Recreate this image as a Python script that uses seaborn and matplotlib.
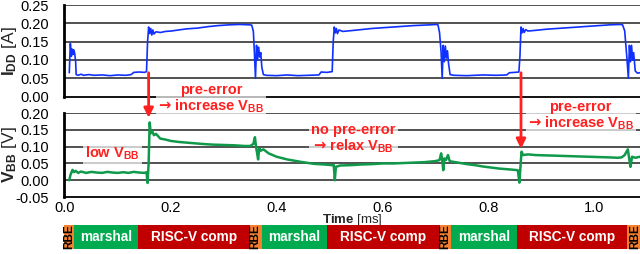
import matplotlib

matplotlib.use("Agg")
import matplotlib.pyplot as plt
from matplotlib.patches import ConnectionPatch
from matplotlib.ticker import AutoMinorLocator, MultipleLocator
import pandas as pd
import seaborn as sns


# I_DD trace (time in ms, current in A)
idd_time = [
    0.008, 0.010, 0.012, 0.013, 0.015, 0.016, 0.018, 0.020, 0.021, 0.025,
    0.030, 0.035, 0.045, 0.055, 0.070, 0.085, 0.100, 0.115, 0.125, 0.130,
    0.140, 0.150, 0.154, 0.156, 0.158, 0.160, 0.162, 0.164, 0.166, 0.168,
    0.172, 0.180, 0.190, 0.200, 0.215, 0.230, 0.250, 0.270, 0.290, 0.310,
    0.330, 0.350, 0.353, 0.356, 0.358, 0.360, 0.362, 0.364, 0.366, 0.368,
    0.370, 0.372, 0.375, 0.380, 0.400, 0.420, 0.440, 0.460, 0.480, 0.484,
    0.495, 0.505, 0.507, 0.509, 0.511, 0.513, 0.515, 0.518, 0.525, 0.540,
    0.560, 0.580, 0.600, 0.630, 0.660, 0.690, 0.702, 0.705, 0.708, 0.711,
    0.713, 0.715, 0.717, 0.719, 0.721, 0.723, 0.725, 0.728, 0.735, 0.760,
    0.790, 0.815, 0.835, 0.840, 0.850, 0.858, 0.860, 0.862, 0.864, 0.866,
    0.868, 0.871, 0.875, 0.890, 0.910, 0.940, 0.970, 1.000, 1.030, 1.050,
    1.054, 1.058, 1.062, 1.065, 1.067, 1.069, 1.071, 1.073, 1.075, 1.078,
    1.082, 1.087,
]
idd_value = [
    0.065, 0.145, 0.110, 0.130, 0.115, 0.128, 0.120, 0.095, 0.060, 0.058,
    0.061, 0.058, 0.060, 0.058, 0.059, 0.057, 0.059, 0.058, 0.060, 0.066,
    0.067, 0.066, 0.068, 0.150, 0.190, 0.172, 0.186, 0.168, 0.182, 0.171,
    0.177, 0.175, 0.178, 0.179, 0.182, 0.185, 0.187, 0.191, 0.194, 0.196,
    0.197, 0.196, 0.195, 0.178, 0.120, 0.050, 0.140, 0.100, 0.135, 0.108,
    0.120, 0.080, 0.060, 0.058, 0.057, 0.059, 0.057, 0.058, 0.059, 0.067,
    0.066, 0.068, 0.150, 0.190, 0.174, 0.186, 0.172, 0.182, 0.178, 0.180,
    0.183, 0.186, 0.188, 0.191, 0.194, 0.196, 0.197, 0.196, 0.175, 0.120,
    0.050, 0.140, 0.095, 0.138, 0.105, 0.125, 0.090, 0.060, 0.058, 0.057,
    0.059, 0.058, 0.059, 0.065, 0.066, 0.067, 0.110, 0.190, 0.174, 0.186,
    0.175, 0.183, 0.179, 0.181, 0.184, 0.187, 0.190, 0.193, 0.196, 0.197,
    0.196, 0.180, 0.110, 0.050, 0.140, 0.095, 0.140, 0.100, 0.120, 0.070,
    0.064, 0.065,
]

# V_BB trace (time in ms, voltage in V)
vbb_time = [
    0.008, 0.010, 0.014, 0.017, 0.020, 0.025, 0.030, 0.040, 0.050, 0.060,
    0.070, 0.080, 0.090, 0.100, 0.110, 0.120, 0.130, 0.140, 0.150, 0.154,
    0.156, 0.158, 0.160, 0.162, 0.165, 0.168, 0.172, 0.180, 0.190, 0.200,
    0.215, 0.230, 0.245, 0.260, 0.280, 0.300, 0.320, 0.340, 0.350, 0.356,
    0.359, 0.361, 0.363, 0.365, 0.367, 0.370, 0.375, 0.385, 0.400, 0.420,
    0.445, 0.470, 0.490, 0.505, 0.508, 0.510, 0.512, 0.520, 0.540, 0.560,
    0.580, 0.600, 0.620, 0.650, 0.680, 0.700, 0.708, 0.711, 0.713, 0.715,
    0.717, 0.720, 0.724, 0.727, 0.730, 0.745, 0.760, 0.775, 0.790, 0.805,
    0.820, 0.835, 0.850, 0.856, 0.859, 0.861, 0.863, 0.866, 0.875, 0.890,
    0.910, 0.930, 0.950, 0.970, 0.990, 1.010, 1.030, 1.045, 1.052, 1.058,
    1.064, 1.067, 1.069, 1.072, 1.078, 1.087,
]
vbb_value = [
    0.000, 0.015, 0.031, 0.024, 0.028, 0.022, 0.026, 0.022, 0.025, 0.023,
    0.022, 0.025, 0.023, 0.022, 0.024, 0.022, 0.025, 0.023, 0.022, 0.024,
    -0.008, 0.050, 0.172, 0.140, 0.146, 0.134, 0.138, 0.124, 0.121, 0.117,
    0.114, 0.112, 0.110, 0.108, 0.106, 0.105, 0.104, 0.102, 0.102, 0.108,
    0.128, 0.100, 0.082, 0.062, 0.095, 0.088, 0.092, 0.080, 0.070, 0.062,
    0.055, 0.049, 0.047, 0.045, 0.046, 0.000, 0.040, 0.044, 0.045, 0.047,
    0.048, 0.050, 0.050, 0.052, 0.054, 0.057, 0.060, 0.080, 0.062, 0.030,
    0.065, 0.060, 0.075, 0.058, 0.056, 0.052, 0.048, 0.045, 0.041, 0.038,
    0.035, 0.033, 0.031, 0.030, -0.007, 0.040, 0.085, 0.075, 0.077, 0.075,
    0.074, 0.073, 0.072, 0.071, 0.070, 0.069, 0.068, 0.067, 0.068, 0.075,
    0.092, 0.060, 0.040, 0.070, 0.067, 0.070,
]

# phase bar underneath the traces
phase_names = [
    "RBE", "marshal", "RISC-V comp", "RBE", "marshal",
    "RISC-V comp", "RBE", "marshal", "RISC-V comp", "RBE",
]
phase_start = [-0.002, 0.017, 0.138, 0.349, 0.372, 0.496, 0.708, 0.730, 0.855, 1.062]
phase_end = [0.017, 0.138, 0.349, 0.372, 0.496, 0.708, 0.730, 0.855, 1.062, 1.095]
phase_colors = {"RBE": "#f28030", "marshal": "#00aa4f", "RISC-V comp": "#c00000"}

# red arrows: time, I_DD start (A), V_BB end (V)
arrow_time = [0.158, 0.862]
arrow_from = [0.065, 0.065]
arrow_to = [0.186, 0.094]

# annotations in the V_BB panel: text, time, voltage
ARROW = "$\\mathsf{→}$"
note_texts = [
    f"pre-error\n{ARROW} increase $\\mathbf{{V_{{BB}}}}$",
    "low $\\mathbf{V_{BB}}$",
    f"no pre-error\n{ARROW} relax $\\mathbf{{V_{{BB}}}}$",
    f"pre-error\n{ARROW} increase $\\mathbf{{V_{{BB}}}}$",
]
note_time = [0.276, 0.089, 0.545, 0.975]
note_volt = [0.243, 0.081, 0.124, 0.190]

X_MAX = 1.087
RED = "#ff2020"
GRID = "#222222"


def style_panel(ax, ylim, yticks):
    ax.set_xlim(-0.002, X_MAX)
    ax.set_ylim(*ylim)
    ax.set_yticks(yticks)
    ax.set_yticklabels([f"{v:.2f}" for v in yticks])
    ax.xaxis.set_major_locator(MultipleLocator(0.2))
    ax.xaxis.set_minor_locator(AutoMinorLocator(5))
    ax.yaxis.set_minor_locator(AutoMinorLocator(5))
    ax.tick_params(which="both", direction="in", top=False, right=False,
                   labelsize=10.5, colors="black")
    ax.tick_params(axis="y", which="major", length=4, width=1, pad=11)
    ax.tick_params(axis="y", which="minor", length=2.5, width=0.8)
    ax.tick_params(axis="x", which="major", length=4, width=1, pad=2.5)
    ax.tick_params(axis="x", which="minor", length=3, width=0.8)
    for side in ("top", "right"):
        ax.spines[side].set_visible(False)
    ax.spines["left"].set_linewidth(2)
    ax.spines["bottom"].set_linewidth(1.3)
    ax.spines["left"].set_color("black")
    ax.spines["bottom"].set_color("black")
    ax.grid(False)
    for v in yticks[1:]:
        ax.axhline(v, color=GRID, lw=1.1, zorder=0.5)


def main() -> None:
    sns.set_style("white")
    plt.rcParams["font.family"] = ["Liberation Sans", "DejaVu Sans"]
    plt.rcParams["mathtext.fontset"] = "custom"
    plt.rcParams["mathtext.rm"] = "Liberation Sans"
    plt.rcParams["mathtext.bf"] = "Liberation Sans:bold"
    plt.rcParams["mathtext.sf"] = "DejaVu Sans:bold"

    fig = plt.figure(figsize=(6.4, 2.54), dpi=100)
    ax_i = fig.add_axes([0.1, 0.620, 0.9, 0.360])
    ax_v = fig.add_axes([0.1, 0.224, 0.9, 0.331])
    ax_p = fig.add_axes([0.1, 0.020, 0.9, 0.094])

    idd = pd.DataFrame({"time": idd_time, "current": idd_value})
    vbb = pd.DataFrame({"time": vbb_time, "voltage": vbb_value})

    sns.lineplot(data=idd, x="time", y="current", ax=ax_i, color="#1030ff",
                 lw=1.2, sort=False, zorder=3)
    sns.lineplot(data=vbb, x="time", y="voltage", ax=ax_v, color="#10994a",
                 lw=1.8, sort=False, zorder=3)

    style_panel(ax_i, (0, 0.25), [0.0, 0.05, 0.10, 0.15, 0.20, 0.25])
    style_panel(ax_v, (-0.05, 0.20), [-0.05, 0.0, 0.05, 0.10, 0.15, 0.20])
    ax_i.tick_params(axis="x", labelbottom=False)

    ax_i.set_xlabel("")
    ax_i.set_ylabel("$\\mathbf{I_{DD}}$ [A]", fontsize=12.5, va="center")
    ax_v.set_ylabel("$\\mathbf{V_{BB}}$ [V]", fontsize=12.5, va="center")
    ax_i.yaxis.set_label_coords(-0.095, 0.5)
    ax_v.yaxis.set_label_coords(-0.095, 0.5)
    ax_v.set_xlabel("$\\mathbf{Time}$ [ms]", fontsize=9.5)
    ax_v.xaxis.set_label_coords(0.5, -0.27)
    ax_v.xaxis.label.set_va("center")

    for text, t, v in zip(note_texts, note_time, note_volt):
        ax_v.text(t, v, text, color=RED, fontsize=10.5, fontweight="bold",
                  ha="center", va="center", linespacing=1.05, clip_on=False,
                  zorder=6,
                  bbox=dict(boxstyle="square,pad=0.15", fc="white",
                            ec="none", alpha=0.7))

    for t, a, b in zip(arrow_time, arrow_from, arrow_to):
        con = ConnectionPatch(xyA=(t, a), coordsA=ax_i.transData,
                              xyB=(t, b), coordsB=ax_v.transData,
                              arrowstyle="-|>", color=RED, lw=2,
                              mutation_scale=14, zorder=8)
        fig.add_artist(con)

    # phase bar
    widths = [e - s for s, e in zip(phase_start, phase_end)]
    colors = [phase_colors[n] for n in phase_names]
    ax_p.barh([0] * len(phase_names), widths, left=phase_start, height=1,
              color=colors, edgecolor="none")
    for name, s, w in zip(phase_names, phase_start, widths):
        mid = s + w / 2
        if name == "RBE":
            ax_p.text(mid, 0, name, rotation=90, ha="center", va="center",
                      fontsize=8.5, fontweight="bold", color="black")
        else:
            ax_p.text(mid, 0, name, ha="center", va="center",
                      fontsize=9.8, fontweight="bold", color="white")
    ax_p.set_xlim(-0.002, X_MAX)
    ax_p.set_ylim(-0.5, 0.5)
    ax_p.axis("off")

    fig.savefig("out.png", dpi=100)
    plt.close(fig)


if __name__ == "__main__":
    main()
